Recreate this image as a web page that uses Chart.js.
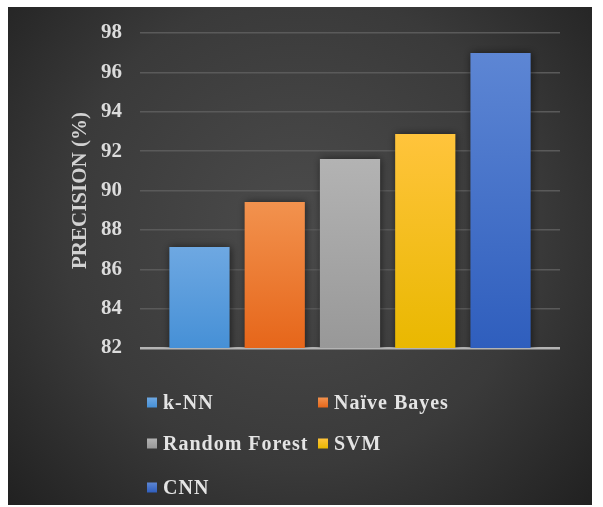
<!DOCTYPE html>
<html>
<head>
<meta charset="utf-8">
<title>Precision by classifier</title>
<script src="https://cdn.jsdelivr.net/npm/chart.js@4.4.1/dist/chart.umd.min.js"></script>
<style>
  html, body { margin: 0; padding: 0; background: #ffffff; }
  #wrap { position: relative; width: 603px; height: 507px; }
  #chart { position: absolute; left: 0; top: 0; }
  .legend { position: absolute; left: 0; top: 0; width: 603px; height: 507px; pointer-events: none;
            font-family: "Liberation Serif", "Times New Roman", serif; font-weight: bold; font-size: 20px;
            letter-spacing: 1px; color: #e4e4e4; }
  .legend .item { position: absolute; display: flex; align-items: center; white-space: nowrap; transform: translateY(-50%); }
  .legend .sw { display: inline-block; flex: none; width: 10px; height: 10px; margin-right: 6px; }
</style>
</head>
<body>
<div id="wrap">
  <canvas id="chart" width="603" height="507"></canvas>
  <div class="legend" id="legend"></div>
</div>
<script>
// Classifiers and their precision (%)
const categories = ['k-NN', 'Naïve Bayes', 'Random Forest', 'SVM', 'CNN'];
const precision = [87.13, 89.41, 91.6, 92.87, 96.98];

// Axis range and ticks
const yMin = 82;
const yMax = 98;
const yStep = 2;

// Bar fills: lighter at the top, deeper at the base
const topColors = ['#6ea8e2', '#f2924e', '#b3b3b3', '#ffc43c', '#5d86d4'];
const bottomColors = ['#4690d6', '#e6661a', '#989898', '#e9b800', '#2f5ebd'];

// Legend grid placement (column x, row y)
const legendSlots = [[147, 402], [318, 402], [147, 443], [318, 443], [147, 487]];

const FONT = '"Liberation Serif", "Times New Roman", serif';

function barFill(i) {
  return (ctx) => {
    const chart = ctx.chart;
    const ys = chart.scales.y;
    if (!chart.chartArea || !ys) return topColors[i];
    const top = ys.getPixelForValue(precision[i]);
    const base = ys.getPixelForValue(yMin);
    const g = chart.ctx.createLinearGradient(0, top, 0, base);
    g.addColorStop(0, topColors[i]);
    g.addColorStop(1, bottomColors[i]);
    return g;
  };
}

// Dark panel behind the chart
const panelBackground = {
  id: 'panelBackground',
  beforeDraw(chart) {
    const c = chart.ctx;
    const x0 = 8, y0 = 7, x1 = 592, y1 = 505;
    const g = c.createRadialGradient(300, 230, 10, 300, 230, 420);
    g.addColorStop(0, '#4b4b4b');
    g.addColorStop(0.55, '#3a3a3a');
    g.addColorStop(1, '#1e1e1e');
    c.save();
    c.fillStyle = g;
    c.fillRect(x0, y0, x1 - x0, y1 - y0);
    c.restore();
  }
};

// Soft shadow around the bars
const barShadow = {
  id: 'barShadow',
  beforeDatasetsDraw(chart) {
    const c = chart.ctx;
    c.save();
    c.shadowColor = 'rgba(0,0,0,0.55)';
    c.shadowBlur = 8;
    c.shadowOffsetX = 1;
    c.shadowOffsetY = 0;
  },
  afterDatasetsDraw(chart) {
    chart.ctx.restore();
  }
};

const datasets = categories.map((name, i) => ({
  label: name,
  data: [precision[i]],
  backgroundColor: barFill(i),
  borderWidth: 0,
  categoryPercentage: 0.896,
  barPercentage: 0.8
}));

new Chart(document.getElementById('chart'), {
  type: 'bar',
  data: { labels: [''], datasets },
  options: {
    responsive: false,
    animation: false,
    devicePixelRatio: 1,
    layout: { padding: { left: 0, right: 43, top: 33, bottom: 159 } },
    plugins: {
      legend: { display: false },
      tooltip: { enabled: false }
    },
    scales: {
      x: { display: false },
      y: {
        min: yMin,
        max: yMax,
        afterFit(scale) { scale.width = 140; },
        border: { display: false },
        grid: {
          drawTicks: false,
          color: (ctx) => ctx.tick && ctx.tick.value === yMin ? '#b4b4b4' : '#5a5a5a',
          lineWidth: (ctx) => ctx.tick && ctx.tick.value === yMin ? 2.5 : 1.5
        },
        ticks: {
          stepSize: yStep,
          padding: 18,
          color: '#dcdcdc',
          font: { family: FONT, size: 21, weight: 'bold' }
        },
        title: {
          display: true,
          text: 'PRECISION (%)',
          color: '#d2d2d2',
          padding: { top: 68, bottom: 0 },
          font: { family: FONT, size: 21, weight: 'bold' }
        }
      }
    }
  },
  plugins: [panelBackground, barShadow]
});

// Legend built from the same series names and colours
const legend = document.getElementById('legend');
categories.forEach((name, i) => {
  const item = document.createElement('div');
  item.className = 'item';
  item.style.left = legendSlots[i][0] + 'px';
  item.style.top = legendSlots[i][1] + 'px';
  const sw = document.createElement('span');
  sw.className = 'sw';
  sw.style.background = `linear-gradient(${topColors[i]}, ${bottomColors[i]})`;
  const label = document.createElement('span');
  label.textContent = name;
  item.appendChild(sw);
  item.appendChild(label);
  legend.appendChild(item);
});
</script>
</body>
</html>
